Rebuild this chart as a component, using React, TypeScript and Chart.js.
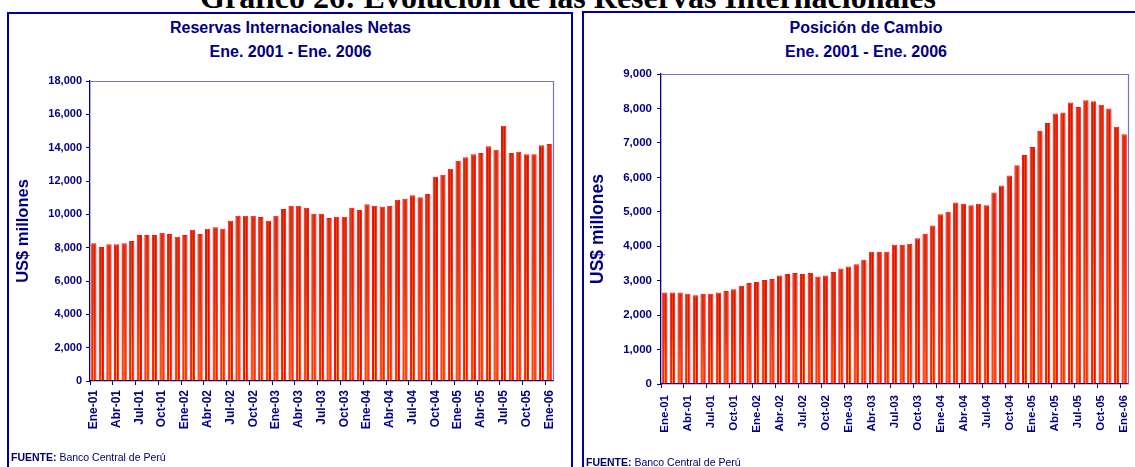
import React, { useEffect, useRef } from 'react';
import { Chart, registerables } from 'chart.js';

Chart.register(...registerables);

const months = ['Ene', 'Feb', 'Mar', 'Abr', 'May', 'Jun', 'Jul', 'Ago', 'Set', 'Oct', 'Nov', 'Dic'];
const years = ['01', '02', '03', '04', '05', '06'];
const categories = years.flatMap((y) => months.map((m) => `${m}-${y}`)).slice(0, 61);

// Reservas Internacionales Netas (US$ millones), Ene-01 .. Ene-06
const reservasNetas = [
  8260, 8040, 8200, 8200, 8260, 8400, 8760, 8760, 8760, 8900,
  8820, 8660, 8760, 9080, 8820, 9140, 9220, 9140, 9620, 9920,
  9920, 9920, 9840, 9620, 9920, 10320, 10520, 10520, 10400, 10040,
  10040, 9780, 9860, 9860, 10400, 10260, 10600, 10520, 10460, 10520,
  10880, 10940, 11140, 11020, 11220, 12260, 12380, 12740, 13220, 13420,
  13600, 13680, 14080, 13880, 15320, 13680, 13760, 13600, 13600, 14140,
  14220,
];

// Posición de Cambio (US$ millones), Ene-01 .. Ene-06
const posicionCambio = [
  2660, 2660, 2660, 2620, 2580, 2620, 2620, 2660, 2700, 2750,
  2850, 2930, 2960, 3020, 3050, 3150, 3190, 3220, 3190, 3220,
  3120, 3150, 3250, 3350, 3410, 3480, 3610, 3840, 3840, 3840,
  4040, 4040, 4070, 4230, 4360, 4600, 4930, 5000, 5270, 5230,
  5190, 5230, 5190, 5560, 5760, 6050, 6350, 6650, 6880, 7350,
  7580, 7850, 7880, 8170, 8040, 8240, 8210, 8110, 8000, 7470,
  7250,
];

const reservasTicks = [0, 2000, 4000, 6000, 8000, 10000, 12000, 14000, 16000, 18000];
const cambioTicks = [0, 1000, 2000, 3000, 4000, 5000, 6000, 7000, 8000, 9000];

const NAVY = '#000080';
const FRAME = '#7474c4';
const SANS = "'Liberation Sans', Arial, Helvetica, sans-serif";
const SERIF = "'Liberation Serif', 'Times New Roman', Times, serif";
const BAR_PCT = 0.7;

function makePattern(ctx: CanvasRenderingContext2D, left: number, top: number, w: number, h: number) {
  const W = Math.max(2, Math.ceil(w) + 1);
  const H = Math.max(2, Math.ceil(h) + 1);
  const c = document.createElement('canvas');
  c.width = W;
  c.height = H;
  const g = c.getContext('2d')!;
  const vg = g.createLinearGradient(0, 0, 0, H);
  vg.addColorStop(0, '#6a8800');
  vg.addColorStop(0.45, '#8f9a00');
  vg.addColorStop(0.8, '#eeee00');
  vg.addColorStop(1, '#ffff00');
  g.fillStyle = vg;
  g.fillRect(0, 0, W, H);
  const hg = g.createLinearGradient(0, 0, w, 0);
  hg.addColorStop(0, 'rgba(255,0,0,1)');
  hg.addColorStop(0.36, 'rgba(255,0,0,1)');
  hg.addColorStop(0.5, 'rgba(255,60,0,0)');
  hg.addColorStop(0.64, 'rgba(255,0,0,1)');
  hg.addColorStop(1, 'rgba(255,0,0,1)');
  g.fillStyle = hg;
  g.fillRect(0, 0, W, H);
  const p = ctx.createPattern(c, 'repeat')!;
  p.setTransform(new DOMMatrix([1, 0, 0, 1, left, top]));
  return p;
}

function barFill(values: number[]) {
  return (c: any) => {
    const chart = c.chart;
    const xs = chart.scales?.x;
    const ys = chart.scales?.y;
    if (!chart.chartArea || !xs || !ys || c.type !== 'data') return '#ff0000';
    const i = c.dataIndex;
    const step = xs.width / values.length;
    const w = step * BAR_PCT;
    const cx = xs.getPixelForValue(i);
    const top = ys.getPixelForValue(values[i]);
    const bottom = ys.getPixelForValue(0);
    return makePattern(chart.ctx, cx - w / 2, top, w, bottom - top);
  };
}

const framePlugin = {
  id: 'plotFrame',
  afterDatasetsDraw(chart: any) {
    const { ctx, chartArea: a } = chart;
    ctx.save();
    ctx.strokeStyle = FRAME;
    ctx.lineWidth = 1.2;
    ctx.beginPath();
    ctx.moveTo(a.left, Math.round(a.top) + 0.5);
    ctx.lineTo(Math.round(a.right) + 0.5, Math.round(a.top) + 0.5);
    ctx.lineTo(Math.round(a.right) + 0.5, a.bottom);
    ctx.stroke();
    ctx.restore();
  },
};

interface Cfg {
  padTop: number;
  padRight: number;
  padBottom: number;
  yWidth: number;
  yTitleSize: number;
  yTitlePad: number;
  yFont: number;
  yPad: number;
  xFont: number;
  xPad: number;
}

function buildConfig(values: number[], ticks: number[], cfg: Cfg): any {
  return {
    type: 'bar',
    data: {
      labels: categories,
      datasets: [
        {
          data: values,
          backgroundColor: barFill(values),
          borderColor: '#ff1010',
          borderWidth: 1,
          barPercentage: BAR_PCT,
          categoryPercentage: 1,
        },
      ],
    },
    options: {
      responsive: false,
      animation: false,
      events: [],
      layout: { padding: { top: cfg.padTop, left: 0, right: cfg.padRight, bottom: cfg.padBottom } },
      plugins: { legend: { display: false }, tooltip: { enabled: false }, title: { display: false } },
      scales: {
        x: {
          type: 'category',
          offset: true,
          grid: {
            display: true,
            offset: true,
            drawOnChartArea: false,
            drawTicks: true,
            tickLength: 4,
            tickWidth: 1,
            tickColor: (c: any) => (c.index % 3 === 0 ? NAVY : 'rgba(0,0,0,0)'),
          },
          border: { display: true, color: NAVY, width: 1.3 },
          ticks: {
            autoSkip: false,
            maxRotation: 90,
            minRotation: 90,
            padding: cfg.xPad,
            color: NAVY,
            font: { family: SANS, size: cfg.xFont, weight: 'bold' },
            callback: (_v: any, i: number) => (i % 3 === 0 ? categories[i] : ''),
          },
          afterFit: (s: any) => {
            s.height = 60;
            s.paddingLeft = 0;
            s.paddingRight = 0;
          },
        },
        y: {
          min: ticks[0],
          max: ticks[ticks.length - 1],
          afterBuildTicks: (s: any) => {
            s.ticks = ticks.map((v) => ({ value: v }));
          },
          grid: { drawOnChartArea: false, drawTicks: true, tickLength: 4, tickColor: NAVY },
          border: { display: true, color: NAVY, width: 1.3 },
          ticks: {
            padding: cfg.yPad,
            color: NAVY,
            font: { family: SANS, size: cfg.yFont, weight: 'bold' },
            callback: (v: any) => Number(v).toLocaleString('en-US'),
          },
          title: {
            display: true,
            text: 'US$ millones',
            color: NAVY,
            font: { family: SANS, size: cfg.yTitleSize, weight: 'bold' },
            padding: { top: cfg.yTitlePad, bottom: 0 },
          },
          afterFit: (s: any) => {
            s.width = cfg.yWidth;
            s.paddingTop = 0;
            s.paddingBottom = 0;
          },
        },
      },
    },
    plugins: [framePlugin],
  };
}

const leftCfg: Cfg = {
  padTop: 81, padRight: 25, padBottom: 26, yWidth: 90,
  yTitleSize: 16.5, yTitlePad: 13.6, yFont: 11, yPad: 4, xFont: 12, xPad: 5,
};
const rightCfg: Cfg = {
  padTop: 74, padRight: 7, padBottom: 23, yWidth: 83,
  yTitleSize: 17.5, yTitlePad: 10, yFont: 11.5, yPad: 5, xFont: 11.5, xPad: 7,
};

const titleStyle: React.CSSProperties = {
  position: 'absolute',
  top: 16,
  textAlign: 'center',
  fontFamily: SANS,
  fontWeight: 'bold',
  fontSize: 16,
  lineHeight: '24px',
  color: NAVY,
  whiteSpace: 'nowrap',
};

const sourceStyle: React.CSSProperties = {
  position: 'absolute',
  fontFamily: SANS,
  fontSize: 10.5,
  lineHeight: '12px',
  color: '#000066',
  whiteSpace: 'nowrap',
};

export default function App() {
  const leftRef = useRef<HTMLCanvasElement>(null);
  const rightRef = useRef<HTMLCanvasElement>(null);

  useEffect(() => {
    const a = new Chart(leftRef.current!, buildConfig(reservasNetas, reservasTicks, leftCfg));
    const b = new Chart(rightRef.current!, buildConfig(posicionCambio, cambioTicks, rightCfg));
    return () => {
      a.destroy();
      b.destroy();
    };
  }, []);

  return (
    <div style={{ position: 'absolute', left: 0, top: 0, width: 1135, height: 467, overflow: 'hidden', background: '#ffffff' }}>
      <div style={{ position: 'absolute', left: 7, top: 12, width: 566, height: 520, boxSizing: 'border-box', border: '2px solid #00009a' }} />
      <div style={{ position: 'absolute', left: 582, top: 11, width: 600, height: 520, boxSizing: 'border-box', border: '2px solid #00009a' }} />
      <div
        style={{
          position: 'absolute', left: 0, width: 1136, top: -19, textAlign: 'center',
          fontFamily: SERIF, fontWeight: 'bold', fontSize: 32, lineHeight: '32px', color: '#000', whiteSpace: 'nowrap',
        }}
      >
        Gráfico 26: Evolución de las Reservas Internacionales
      </div>
      <div style={{ ...titleStyle, left: 8, width: 565 }}>
        Reservas Internacionales Netas
        <br />
        Ene. 2001 - Ene. 2006
      </div>
      <div style={{ ...titleStyle, left: 582, width: 568 }}>
        Posición de Cambio
        <br />
        Ene. 2001 - Ene. 2006
      </div>
      <canvas ref={leftRef} width={578} height={467} style={{ position: 'absolute', left: 0, top: 0, display: 'block' }} />
      <canvas ref={rightRef} width={557} height={467} style={{ position: 'absolute', left: 578, top: 0, display: 'block' }} />
      <div style={{ ...sourceStyle, left: 11, top: 451 }}>
        <b>FUENTE:</b> Banco Central de Perú
      </div>
      <div style={{ ...sourceStyle, left: 586, top: 456 }}>
        <b>FUENTE:</b> Banco Central de Perú
      </div>
    </div>
  );
}
